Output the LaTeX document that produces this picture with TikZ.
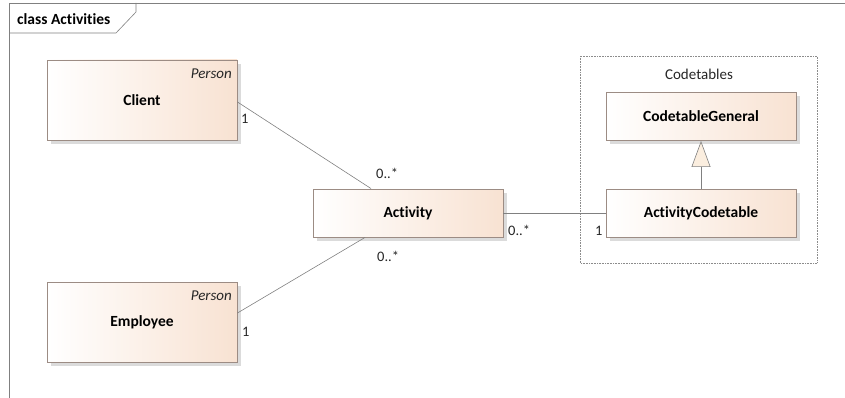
\documentclass[tikz,border=0pt]{standalone}
\usepackage{fontspec}
\setmainfont{Carlito}[Ligatures=NoCommon]
\usetikzlibrary{shadows,arrows.meta,calc}
\definecolor{boxfill}{HTML}{F8E2D2}
\definecolor{boxline}{HTML}{9C8C84}
\definecolor{linecol}{HTML}{808080}
\definecolor{trifill}{HTML}{FBEEDF}
\tikzset{
  cls/.style={draw=boxline, line width=0.9pt, left color=white, right color=boxfill,
    minimum width=190pt, inner sep=0pt, font=\fontsize{15.5}{18}\selectfont\bfseries,
    drop shadow={shadow xshift=4pt, shadow yshift=-4pt, fill=black!14, opacity=1}},
  big/.style={minimum height=80pt},
  small/.style={minimum height=48pt},
  lbl/.style={inner sep=0pt, font=\fontsize{14.5}{17}\selectfont, text=black!85},
  stereo/.style={inner sep=0pt, font=\fontsize{15}{18}\selectfont\itshape, text=black!85},
  conn/.style={draw=linecol, line width=0.6pt},
}
\begin{document}
\begin{tikzpicture}[x=1pt,y=-1pt]
\useasboundingbox (0,0) rectangle (845,398);
% frame
\draw[draw=linecol, line width=0.9pt] (9,398) -- (9,3) -- (845,3);
\draw[draw=linecol, line width=0.6pt] (9,33) -- (116,33) -- (136,12) -- (136,3);
\node[inner sep=0pt, anchor=west, font=\fontsize{15.5}{18}\selectfont\bfseries] (title) at (17,19) {class Activities};
% package
\draw[draw=black!45, densely dotted, line width=0.6pt] (580,56) rectangle (817,263);
\node[lbl, font=\fontsize{15}{18}\selectfont] (pkg) at (699,74) {Codetables};
% classes
\node[cls, big] (client) at (142,100) {Client};
\node[cls, big] (employee) at (142,322) {Employee};
\node[cls, small] (activity) at (408,213) {Activity};
\node[cls, small] (codegen) at (701,116.5) {CodetableGeneral};
\node[cls, small] (actcode) at (701,213) {ActivityCodetable};
\node[stereo, anchor=east] (cst) at (232,74) {Person};
\node[stereo, anchor=east] (est) at (232,296) {Person};
% connectors
\draw[conn] ($(client.east)+(0,2)$) -- ($(activity.north)+(-37,0)$);
\draw[conn] ($(employee.east)+(0,-9)$) -- ($(activity.south)+(-43,0)$);
\draw[conn] (activity.east) -- (actcode.west);
\draw[conn, -{Triangle[open, length=26pt, width=19pt, fill=trifill]}] (actcode.north) -- (codegen.south);
% multiplicities
\node[lbl, anchor=west] (m1) at (241,119) {1};
\node[lbl, anchor=west] (m2) at (376,173) {0..*};
\node[lbl, anchor=west] (m3) at (508,230) {0..*};
\node[lbl, anchor=west] (m4) at (595,231) {1};
\node[lbl, anchor=west] (m5) at (377,256) {0..*};
\node[lbl, anchor=west] (m6) at (242,332) {1};
\end{tikzpicture}
\end{document}
